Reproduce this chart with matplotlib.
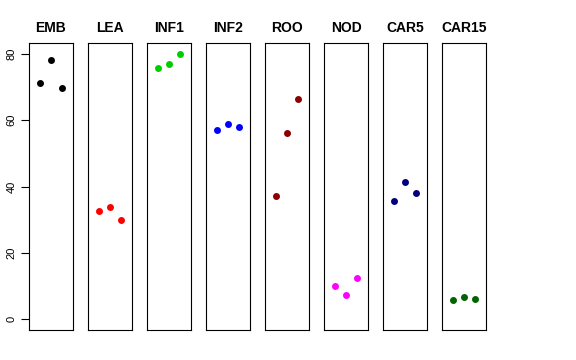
import matplotlib
matplotlib.use("Agg")
import matplotlib.pyplot as plt

# ==========================================
# Data
# ==========================================
groups = ["EMB", "LEA", "INF1", "INF2", "ROO", "NOD", "CAR5", "CAR15"]
colors = ["black", "red", "#00CD00", "blue", "#8B0000", "magenta", "#000080", "#006400"]
values = [
    [71.2, 78.2, 69.8],
    [32.7, 33.8, 29.9],
    [75.6, 76.9, 79.8],
    [57.0, 58.7, 57.8],
    [37.1, 56.2, 66.3],
    [10.0, 7.2, 12.5],
    [35.7, 41.3, 38.0],
    [5.7, 6.7, 6.0],
]
reps = [1, 2, 3]
yticks = [0, 20, 40, 60, 80]

plt.rcParams["font.family"] = ["Liberation Sans", "DejaVu Sans"]

# ==========================================
# Plotting
# ==========================================
fig = plt.figure(figsize=(5.76, 3.6), dpi=100)

left0 = 29 / 576
width = 44 / 576
step = 59 / 576
bottom = 30 / 360
height = 287 / 360

for i, (name, col, vals) in enumerate(zip(groups, colors, values)):
    ax = fig.add_axes([left0 + i * step, bottom, width, height])
    ax.plot(reps, vals, "o", color=col, markersize=5, markeredgewidth=0)
    ax.set_xlim(0, 4)
    ax.set_ylim(-3.2, 83.2)
    ax.set_xticks([])
    ax.set_title(name, fontsize=10, fontweight="bold", pad=8)
    for sp in ax.spines.values():
        sp.set_linewidth(0.8)
    if i == 0:
        ax.set_yticks(yticks)
        ax.set_yticklabels([str(t) for t in yticks], rotation=90, va="center", fontsize=8)
        ax.tick_params(axis="y", length=6, width=0.8, pad=3)
    else:
        ax.set_yticks([])

plt.savefig("out.png", dpi=100)
plt.close()
